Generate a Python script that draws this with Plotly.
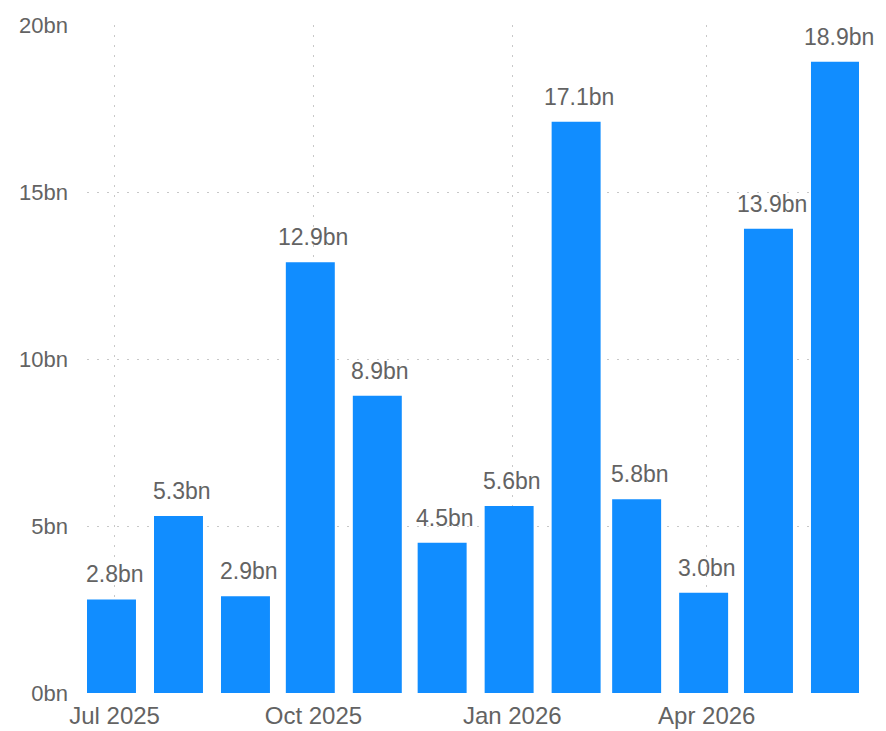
import plotly.graph_objects as go

months = ["2025-07-01", "2025-08-01", "2025-09-01", "2025-10-01", "2025-11-01", "2025-12-01",
          "2026-01-01", "2026-02-01", "2026-03-01", "2026-04-01", "2026-05-01", "2026-06-01"]
values_bn = [2.8, 5.3, 2.9, 12.9, 8.9, 4.5, 5.6, 17.1, 5.8, 3.0, 13.9, 18.9]
labels = [f"{v:.1f}bn" for v in values_bn]

x_tickvals = ["2025-07-01", "2025-10-01", "2026-01-01", "2026-04-01"]
x_ticktext = ["Jul 2025", "Oct 2025", "Jan 2026", "Apr 2026"]
y_tickvals = [0, 5, 10, 15, 20]
y_ticktext = ["0bn", "5bn", "10bn", "15bn", "20bn"]

DAY = 86400000
BAR_COLOR = "#118DFF"
TEXT_COLOR = "#636363"
GRID = "#C8C8C8"
FONT = "Liberation Sans, Arial, sans-serif"

fig = go.Figure()
fig.add_trace(go.Bar(
    x=months, y=values_bn,
    width=[22.66 * DAY] * len(months),
    offset=-12.77 * DAY,
    marker=dict(color=BAR_COLOR, line=dict(width=0)),
    hoverinfo="skip",
))

for m, v, t in zip(months, values_bn, labels):
    fig.add_annotation(x=m, y=v, text=t, showarrow=False, yanchor="middle",
                       yshift=25, font=dict(family=FONT, size=23, color=TEXT_COLOR))

fig.update_layout(
    width=878, height=723,
    margin=dict(l=79, r=27, t=17, b=38),
    paper_bgcolor="white", plot_bgcolor="white",
    showlegend=False,
    font=dict(family=FONT, size=23, color=TEXT_COLOR),
)
fig.update_xaxes(
    type="date", automargin=False,
    range=["2025-06-18 05:30", "2026-06-10 10:48"],
    tickvals=x_tickvals, ticktext=x_ticktext,
    showgrid=True, gridcolor=GRID, griddash="2px,8px", gridwidth=1,
    showline=False, zeroline=False, ticks="",
    ticklabelstandoff=6,
    tickfont=dict(family=FONT, size=24, color=TEXT_COLOR),
)
fig.update_yaxes(
    range=[0, 20], automargin=False,
    tickvals=y_tickvals, ticktext=y_ticktext,
    showgrid=True, gridcolor=GRID, griddash="2px,8px", gridwidth=1,
    showline=False, zeroline=False, ticks="",
    ticklabelstandoff=18,
    tickfont=dict(family=FONT, size=22, color=TEXT_COLOR),
)

fig.write_html("out.html")
